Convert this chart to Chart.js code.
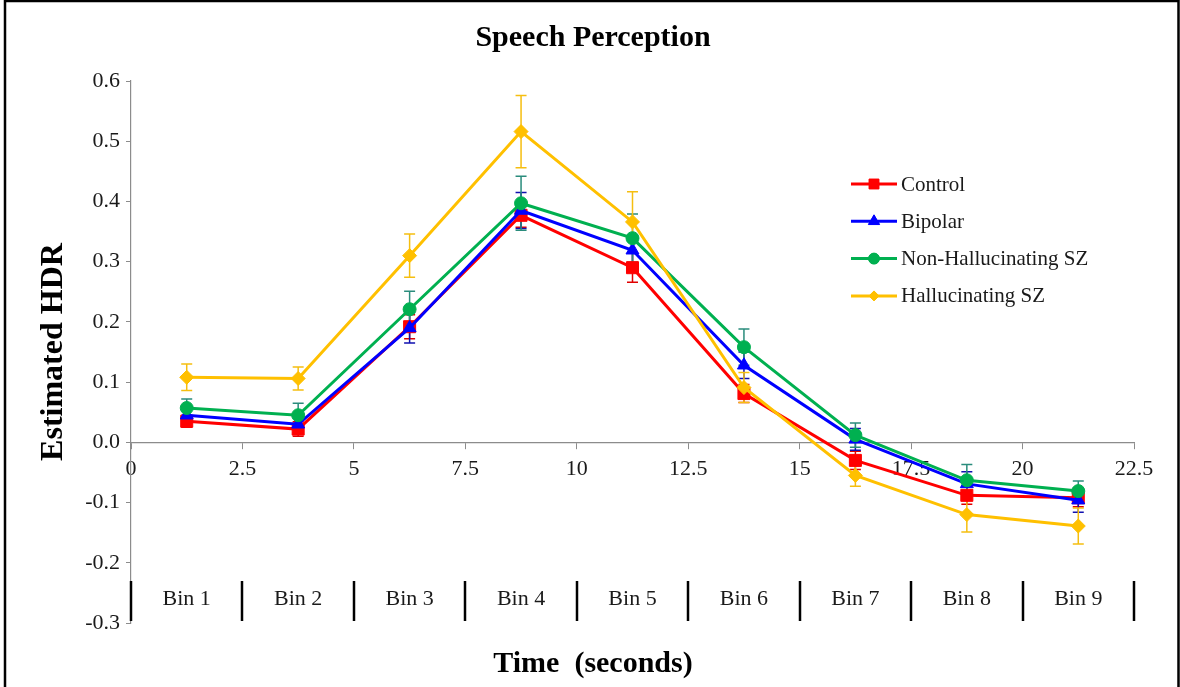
<!DOCTYPE html>
<html>
<head>
<meta charset="utf-8">
<script src="https://cdn.jsdelivr.net/npm/chart.js"></script>
<style>
    html, body { margin: 0; padding: 0; background: #fff; }
    #wrap { width: 1180px; height: 687px; }
</style>
</head>
<body>
<div id="wrap"><canvas id="myChart" width="1180" height="687"></canvas></div>
<script>
// bin centres in seconds (2.5 s bins)
const binCenters = [1.25, 3.75, 6.25, 8.75, 11.25, 13.75, 16.25, 18.75, 21.25];
const binLabels  = ['Bin 1', 'Bin 2', 'Bin 3', 'Bin 4', 'Bin 5', 'Bin 6', 'Bin 7', 'Bin 8', 'Bin 9'];
const xTicks     = [0, 2.5, 5, 7.5, 10, 12.5, 15, 17.5, 20, 22.5];
const yTicks     = [-0.3, -0.2, -0.1, 0.0, 0.1, 0.2, 0.3, 0.4, 0.5, 0.6];

const seriesNames = ['Control', 'Bipolar', 'Non-Hallucinating SZ', 'Hallucinating SZ'];

const control    = [0.035, 0.022, 0.192, 0.377, 0.290, 0.081, -0.030, -0.088, -0.092];
const controlErr = [0.010, 0.012, 0.020, 0.020, 0.024, 0.015, 0.015, 0.015, 0.015];

const bipolar    = [0.045, 0.030, 0.190, 0.385, 0.319, 0.128, 0.005, -0.069, -0.096];
const bipolarErr = [0.012, 0.014, 0.025, 0.030, 0.025, 0.022, 0.018, 0.020, 0.020];

const nonHall    = [0.057, 0.045, 0.221, 0.397, 0.339, 0.158, 0.012, -0.063, -0.081];
const nonHallErr = [0.015, 0.020, 0.030, 0.045, 0.040, 0.030, 0.020, 0.026, 0.017];

const hall       = [0.108, 0.106, 0.310, 0.516, 0.366, 0.091, -0.055, -0.120, -0.139];
const hallErr    = [0.022, 0.019, 0.036, 0.060, 0.050, 0.025, 0.018, 0.029, 0.030];

const FONT = "'Liberation Serif', 'Times New Roman', serif";

function toPoints(values) {
    return values.map((v, i) => ({ x: binCenters[i], y: v }));
}

function makeSet(label, values, errors, color, errColor, style, radius, order) {
    return {
        label: label,
        data: toPoints(values),
        errors: errors,
        errColor: errColor,
        borderColor: color,
        backgroundColor: color,
        borderWidth: 3,
        pointStyle: style,
        pointRadius: radius,
        pointHoverRadius: radius,
        pointBorderWidth: 1,
        tension: 0,
        order: order,
    };
}

const datasets = [
    makeSet(seriesNames[0], control, controlErr, '#FF0000', '#E00000', 'rect',     8.5, 4),
    makeSet(seriesNames[1], bipolar, bipolarErr, '#0000FF', '#1010B0', 'triangle', 7.5, 3),
    makeSet(seriesNames[2], nonHall, nonHallErr, '#00B050', '#2A8C7C', 'circle',   6.5, 2),
    makeSet(seriesNames[3], hall,    hallErr,    '#FFC000', '#F5BE10', 'rectRot',  7,   1),
];

// error bars, drawn under the lines
const errorBars = {
    id: 'errorBars',
    beforeDatasetsDraw(chart) {
        const { ctx, scales: { x, y } } = chart;
        ctx.save();
        ctx.lineWidth = 1.5;
        chart.data.datasets.forEach(ds => {
            ctx.strokeStyle = ds.errColor;
            ds.data.forEach((p, i) => {
                const px = x.getPixelForValue(p.x);
                const top = y.getPixelForValue(p.y + ds.errors[i]);
                const bot = y.getPixelForValue(p.y - ds.errors[i]);
                ctx.beginPath();
                ctx.moveTo(px, top); ctx.lineTo(px, bot);
                ctx.moveTo(px - 5.5, top); ctx.lineTo(px + 5.5, top);
                ctx.moveTo(px - 5.5, bot); ctx.lineTo(px + 5.5, bot);
                ctx.stroke();
            });
        });
        ctx.restore();
    }
};

// bin row, legend and the outer frame
const extras = {
    id: 'extras',
    afterDraw(chart) {
        const { ctx, chartArea, scales: { x } } = chart;
        ctx.save();

        // bins
        ctx.strokeStyle = '#000';
        ctx.lineWidth = 2.5;
        xTicks.forEach(v => {
            const px = Math.round(x.getPixelForValue(v));
            ctx.beginPath();
            ctx.moveTo(px, chartArea.bottom - 42);
            ctx.lineTo(px, chartArea.bottom - 2);
            ctx.stroke();
        });
        ctx.fillStyle = '#1a1a1a';
        ctx.font = '22px ' + FONT;
        ctx.textAlign = 'center';
        ctx.textBaseline = 'middle';
        binLabels.forEach((lab, i) => {
            ctx.fillText(lab, x.getPixelForValue(binCenters[i]), chartArea.bottom - 24);
        });

        // legend
        const lx = 851, ly = 184, gap = 37.3;
        const legendRadius = [7, 6.5, 5.5, 5];
        chart.data.datasets.forEach((ds, i) => {
            const yy = ly + i * gap;
            ctx.strokeStyle = ds.borderColor;
            ctx.lineWidth = 3;
            ctx.beginPath();
            ctx.moveTo(lx, yy); ctx.lineTo(lx + 46, yy);
            ctx.stroke();
            ctx.fillStyle = ds.backgroundColor;
            ctx.lineWidth = 1;
            Chart.helpers.drawPoint(ctx, { pointStyle: ds.pointStyle, radius: legendRadius[i], borderWidth: 1 }, lx + 23, yy);
            ctx.fill();
            ctx.fillStyle = '#1a1a1a';
            ctx.textAlign = 'left';
            ctx.textBaseline = 'middle';
            ctx.font = '21px ' + FONT;
            ctx.fillText(ds.label, lx + 50, yy + 1);
        });

        // frame
        ctx.strokeStyle = '#000';
        ctx.lineWidth = 2.5;
        ctx.beginPath();
        ctx.moveTo(5, 687); ctx.lineTo(5, 1); ctx.lineTo(1178.5, 1); ctx.lineTo(1178.5, 687);
        ctx.stroke();
        ctx.restore();
    }
};

const ctx = document.getElementById('myChart').getContext('2d');
const myChart = new Chart(ctx, {
    type: 'line',
    data: { datasets: datasets },
    plugins: [errorBars, extras],
    options: {
        responsive: false,
        animation: false,
        layout: { padding: { left: 8, right: 2, top: 0, bottom: 0 } },
        plugins: {
            legend: { display: false },
            tooltip: { enabled: false },
            title: {
                display: true,
                text: 'Speech Perception',
                color: '#000',
                font: { family: FONT, size: 30, weight: 'bold' },
                padding: { top: 20, bottom: 25 },
            },
            subtitle: {
                display: true,
                position: 'bottom',
                text: 'Time  (seconds)',
                color: '#000',
                font: { family: FONT, size: 30, weight: 'bold' },
                padding: { top: 23, bottom: 5 },
            },
        },
        scales: {
            x: {
                type: 'linear',
                position: { y: 0 },
                min: 0,
                max: 22.5,
                afterBuildTicks: scale => { scale.ticks = xTicks.map(v => ({ value: v })); },
                ticks: {
                    color: '#1a1a1a',
                    font: { family: FONT, size: 22 },
                    padding: 8,
                    maxRotation: 0,
                    autoSkip: false,
                    callback: v => String(v),
                },
                grid: { drawOnChartArea: false, drawTicks: true, tickLength: 6, color: '#8c8c8c' },
                border: { color: '#8c8c8c', width: 1.2 },
            },
            y: {
                type: 'linear',
                position: 'left',
                min: -0.3,
                max: 0.6,
                afterBuildTicks: scale => { scale.ticks = yTicks.map(v => ({ value: v })); },
                afterFit: scale => { scale.width = 123; },
                ticks: {
                    color: '#1a1a1a',
                    font: { family: FONT, size: 22 },
                    padding: 6,
                    callback: v => (Math.round(v * 10) / 10).toFixed(1),
                },
                grid: { drawOnChartArea: false, drawTicks: true, tickLength: 5, color: '#8c8c8c' },
                border: { color: '#8c8c8c', width: 1.2 },
                title: {
                    display: true,
                    text: 'Estimated HDR',
                    color: '#000',
                    font: { family: FONT, size: 32, weight: 'bold' },
                    padding: { top: 27, bottom: 0 },
                },
            },
            yRight: {
                type: 'linear',
                position: 'right',
                display: true,
                ticks: { display: false },
                grid: { display: false },
                border: { display: false },
                afterFit: scale => { scale.width = 44; },
            },
        },
    },
});
</script>
</body>
</html>
